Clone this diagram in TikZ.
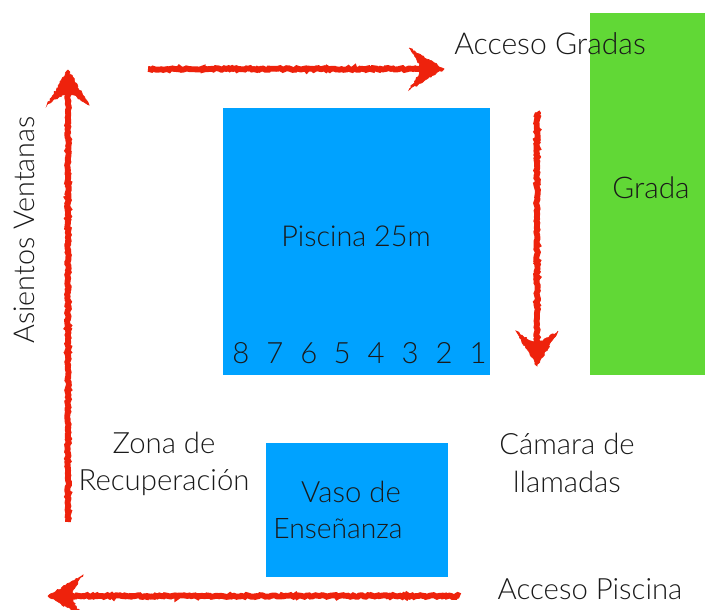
\documentclass[tikz,border=0pt]{standalone}
\usepackage{fontspec}
\setmainfont{Lato Light}
\usetikzlibrary{decorations.pathmorphing}
\definecolor{poolblue}{HTML}{00A2FF}
\definecolor{gradagreen}{HTML}{61D836}
\definecolor{roughred}{HTML}{EE220C}
\definecolor{labelink}{HTML}{1A1A1A}
\tikzset{
  area/.style={fill=#1,draw=none,inner sep=0pt,anchor=north west},
  lbl/.style={inner sep=0pt,text=labelink,font=\fontsize{#1}{28}\selectfont,align=center},
  lbl/.default=22,
  roughline/.style={draw=roughred,line width=4.4pt,decorate,decoration={random steps,segment length=1.4pt,amplitude=0.7pt}},
  pics/roughhead/.style={code={
    \fill[roughred,draw=roughred,line width=0.5pt,decorate,decoration={random steps,segment length=1.5pt,amplitude=0.7pt}]
      (0,0) -- (-35,-21) -- (-25,-6) -- (-25,6) -- (-35,21) -- cycle;
  }}
}
\begin{document}
\begin{tikzpicture}[x=0.75pt,y=-0.75pt]
\useasboundingbox (0,0) rectangle (705,609);
\node[area=poolblue,minimum width=200.25pt,minimum height=200.25pt] (pool) at (223,108) {};
\node[area=poolblue,minimum width=136.5pt,minimum height=100.5pt] (vaso) at (266,443) {};
\node[area=gradagreen,minimum width=86.25pt,minimum height=271.5pt] (grada) at (590,13) {};

\coordinate (a1s) at (148,69); \coordinate (a1e) at (430,69);
\coordinate (a2s) at (537,112); \coordinate (a2e) at (537,352);
\coordinate (a3s) at (460,596); \coordinate (a3e) at (62,596);
\coordinate (a4s) at (68,522); \coordinate (a4e) at (68,84);
\draw[roughline] (a1s) -- (a1e);
\draw[roughline] (a2s) -- (a2e);
\draw[roughline] (a3s) -- (a3e);
\draw[roughline] (a4s) -- (a4e);
\pic at (444,69) {roughhead};
\pic[rotate=-90] at (537,366) {roughhead};
\pic[rotate=180] at (48,596) {roughhead};
\pic[rotate=90] at (68,70) {roughhead};

\node[lbl=22.6] (accg) at (550,44) {Acceso Gradas};
\node[lbl=22.4] (gradal) at (651,188) {Grada};
\node[lbl=21.6] (pisc) at (356,236) {Piscina 25m};
\node[lbl] (n8) at (241,353) {8};
\node[lbl] (n7) at (275,353) {7};
\node[lbl] (n6) at (309,353) {6};
\node[lbl] (n5) at (342,353) {5};
\node[lbl] (n4) at (376,353) {4};
\node[lbl] (n3) at (410,353) {3};
\node[lbl] (n2) at (444,353) {2};
\node[lbl] (n1) at (478,353) {1};
\node[lbl] (zona) at (164,464) {Zona de\\Recuperación};
\node[lbl] (cam) at (567,463) {Cámara de\\llamadas};
\node[lbl] (vaso1) at (351,492) {Vaso de};
\node[lbl=21.2] (vaso2) at (338,529) {Enseñanza};
\node[lbl] (accp) at (590,589) {Acceso Piscina};
\node[lbl=21.6,rotate=90] (asi) at (24,230) {Asientos Ventanas};
\end{tikzpicture}
\end{document}
